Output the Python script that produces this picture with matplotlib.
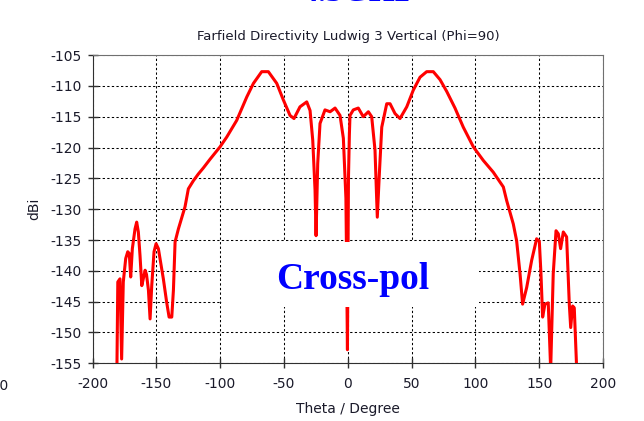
#!/usr/bin/env python3
"""
Farfield directivity cut (Ludwig 3 vertical, phi=90), cross-pol component.
"""
import matplotlib
matplotlib.use("Agg")
import matplotlib.pyplot as plt
from matplotlib.patches import Rectangle

# theta in degrees, directivity in dBi
theta = [
    -181.0, -180.3, -178.6, -177.3, -176.0, -174.1, -172.5, -171.3, -170.2,
    -168.9, -166.8, -165.5, -164.2, -162.9, -161.5, -159.7, -158.9, -157.8,
    -156.3, -155.0, -153.7, -151.9, -150.3, -148.5, -144.6, -142.0, -140.1,
    -138.0, -136.7, -135.4, -132.8, -128.9, -127.6, -125.0, -121.1, -117.2,
    -113.2, -108.0, -100.2, -94.9, -87.1, -79.2, -74.0, -67.5, -62.3, -55.7,
    -50.5, -45.3, -42.2, -37.5, -32.2, -29.6, -27.5, -25.7, -24.9, -23.6,
    -21.8, -17.9, -13.9, -10.0, -6.1, -3.5, -1.5, -0.9, -0.3, 0.5, 1.2, 1.7,
    4.3, 8.2, 12.1, 16.1, 18.7, 21.3, 23.1, 24.7, 26.6, 30.5, 33.1, 37.0,
    40.9, 46.2, 51.3, 56.6, 61.8, 67.0, 72.3, 77.5, 84.0, 90.5, 98.4, 106.2,
    114.0, 121.9, 124.5, 129.7, 132.3, 135.0, 137.0, 140.2, 144.1, 148.0,
    150.1, 151.4, 152.7, 154.5, 157.1, 159.0, 161.0, 163.2, 165.0, 166.8,
    168.9, 171.5, 173.6, 174.7, 176.2, 177.5, 179.4,
]
directivity = [
    -156.0, -141.8, -141.3, -154.3, -141.8, -138.0, -136.9, -137.2, -141.0,
    -136.4, -133.2, -132.1, -133.7, -137.5, -142.4, -140.7, -139.9, -140.6,
    -143.1, -147.8, -142.4, -136.9, -135.6, -136.4, -141.3, -145.1, -147.5,
    -147.5, -143.1, -135.3, -133.2, -130.5, -129.6, -126.7, -125.4, -124.3,
    -123.3, -121.9, -119.9, -118.3, -115.6, -111.8, -109.6, -107.7, -107.7,
    -109.6, -112.3, -114.8, -115.3, -113.4, -112.6, -114.0, -118.8, -126.9,
    -134.3, -122.6, -116.1, -113.9, -114.2, -113.6, -114.8, -118.5, -128.2,
    -140.0, -152.8, -125.0, -118.0, -114.8, -113.9, -113.6, -115.0, -114.2,
    -115.0, -120.4, -131.3, -124.3, -116.7, -112.9, -112.9, -114.5, -115.3,
    -113.4, -110.7, -108.6, -107.7, -107.7, -109.0, -110.9, -113.6, -116.7,
    -119.9, -122.1, -124.0, -126.4, -128.6, -132.4, -135.1, -140.5, -145.4,
    -142.7, -138.3, -134.8, -135.2, -140.5, -147.5, -145.4, -145.2, -156.0,
    -140.5, -133.5, -134.0, -136.4, -133.7, -134.5, -145.4, -149.2, -145.7,
    -146.0, -156.0,
]

x_ticks = list(range(-200, 201, 50))
y_ticks = list(range(-155, -104, 5))

TITLE = "Farfield Directivity Ludwig 3 Vertical (Phi=90)"
LABEL = "Cross-pol"
HEADER = "4.5GHz"

plt.rcParams["font.family"] = ["DejaVu Sans"]
plt.rcParams["axes.unicode_minus"] = False
text_col = "#1a1a2a"

fig = plt.figure(figsize=(6.44, 4.21), dpi=100)
ax = fig.add_axes([0.1439, 0.137, 0.7924, 0.7323])

ax.plot(theta, directivity, color="#ff0000", lw=2.2, solid_joinstyle="round", zorder=3)

ax.set_xlim(-200, 200)
ax.set_ylim(-155, -105)
ax.set_xticks(x_ticks)
ax.set_yticks(y_ticks)
ax.grid(True, color="black", linestyle=(0, (2.2, 2.2)), lw=0.75)
ax.set_axisbelow(True)

ax.tick_params(direction="inout", length=7, width=1, color="#303030",
               labelsize=10, labelcolor=text_col)
ax.tick_params(axis="y", pad=4.5)
ax.tick_params(axis="x", pad=6)
for side in ("left", "bottom"):
    ax.spines[side].set_color("#303030")
for side in ("top", "right"):
    ax.spines[side].set_color("#707070")

ax.set_title(TITLE, fontsize=9.5, color=text_col, pad=11)
ax.set_xlabel("Theta / Degree", fontsize=10, color=text_col)
ax.set_ylabel("dBi", fontsize=10, color=text_col)
ax.yaxis.set_label_coords(-0.1, 0.5)
ax.xaxis.set_label_coords(0.5, -0.125)

# white label box pasted over the plot
ax.add_patch(Rectangle((-98.6, -145.9), 201.4, 10.5, facecolor="white",
                       edgecolor="none", zorder=4))
ax.text(3.7, -142.9, LABEL, ha="center", va="baseline", fontsize=27,
        fontweight="bold", family="Liberation Serif", color="#0000ff", zorder=5)

# cropped pieces of neighbouring content
fig.text(0.552, 0.9985, HEADER, ha="center", va="baseline", fontsize=24,
         fontweight="bold", family="Liberation Serif", color="#0000ff")
fig.text(0.0135, 1 - 386 / 421, "200", ha="right", va="center",
         fontsize=10, color=text_col)

fig.savefig("out.png", dpi=100)
